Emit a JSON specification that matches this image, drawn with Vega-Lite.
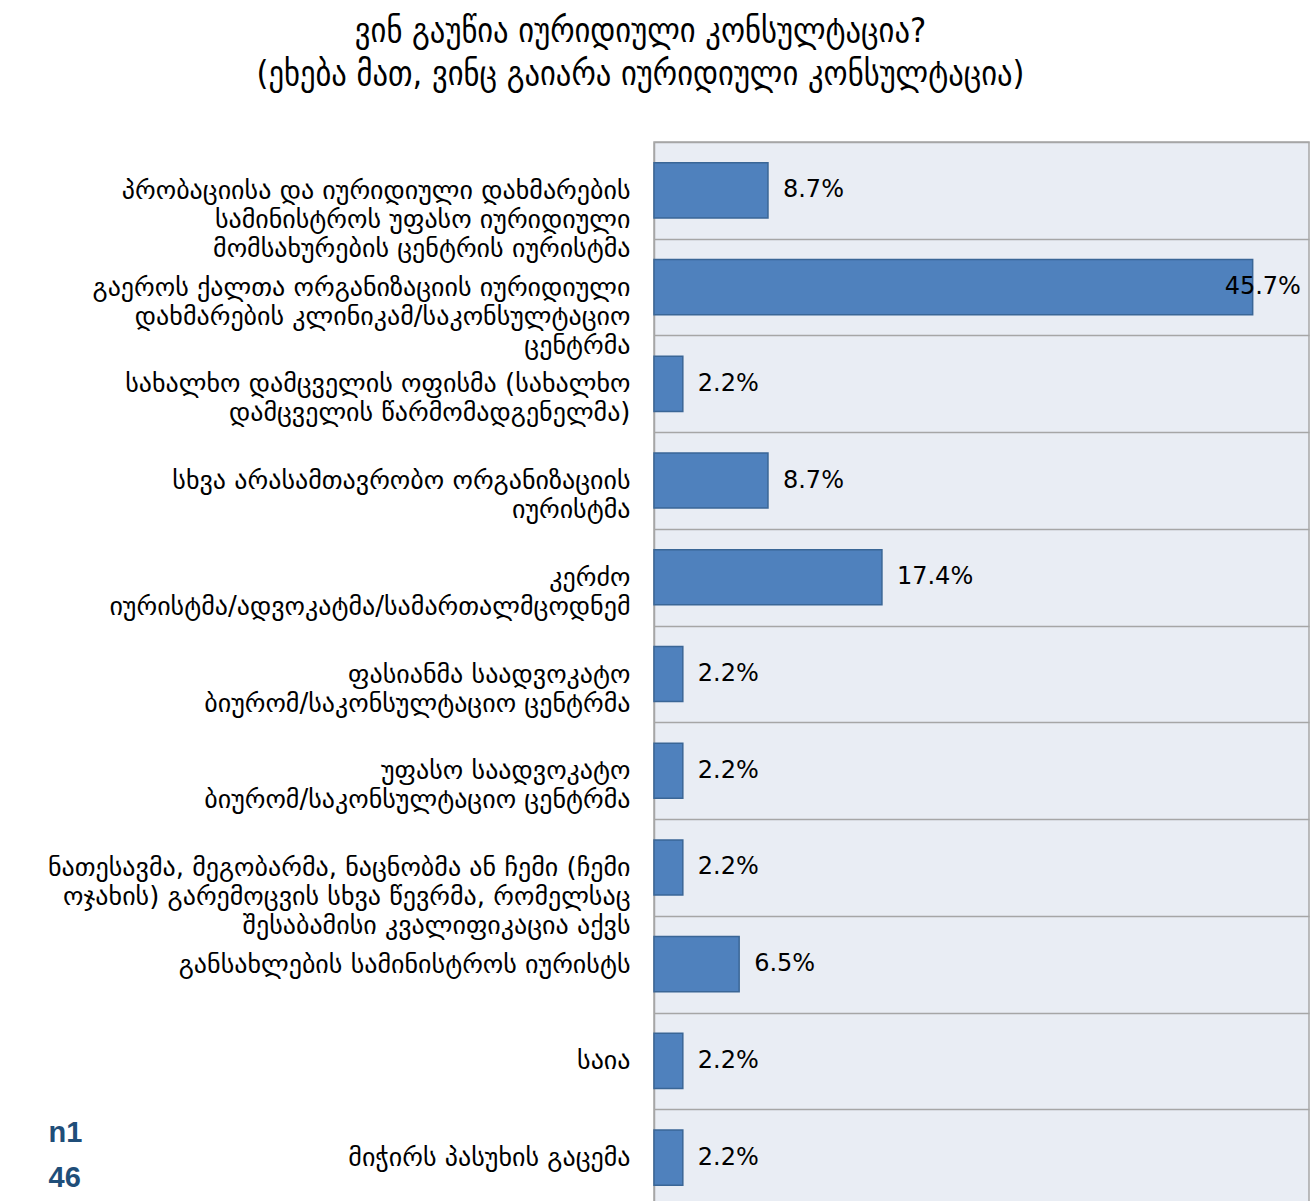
{
  "$schema": "https://vega.github.io/schema/vega-lite/v6.json",
  "autosize": {"type": "none"},
  "width": 655,
  "height": 1064,
  "padding": {"left": 654, "top": 142, "right": 3, "bottom": 0},
  "background": "#ffffff",
  "config": {"view": {"fill": "#E9EDF4", "stroke": "#A6A6A6", "strokeWidth": 1.5}},
  "title": {
    "text": ["ვინ გაუწია იურიდიული კონსულტაცია?", "(ეხება მათ, ვინც გაიარა იურიდიული კონსულტაცია)"],
    "anchor": "middle",
    "dx": -341,
    "offset": 37,
    "font": "DejaVu Sans Condensed",
    "fontSize": 34,
    "fontWeight": "normal",
    "lineHeight": 43,
    "color": "#000000"
  },
  "data": {
    "values": [
      {"label": "პრობაციისა და იურიდიული დახმარების|სამინისტროს უფასო იურიდიული|მომსახურების ცენტრის იურისტმა", "value": 0.087},
      {"label": "გაეროს ქალთა ორგანიზაციის იურიდიული|დახმარების კლინიკამ/საკონსულტაციო|ცენტრმა", "value": 0.457},
      {"label": "სახალხო დამცველის ოფისმა (სახალხო|დამცველის წარმომადგენელმა)", "value": 0.022},
      {"label": "სხვა არასამთავრობო ორგანიზაციის|იურისტმა", "value": 0.087},
      {"label": "კერძო|იურისტმა/ადვოკატმა/სამართალმცოდნემ", "value": 0.174},
      {"label": "ფასიანმა საადვოკატო|ბიურომ/საკონსულტაციო ცენტრმა", "value": 0.022},
      {"label": "უფასო საადვოკატო|ბიურომ/საკონსულტაციო ცენტრმა", "value": 0.022},
      {"label": "ნათესავმა, მეგობარმა, ნაცნობმა ან ჩემი (ჩემი|ოჯახის) გარემოცვის სხვა წევრმა, რომელსაც|შესაბამისი კვალიფიკაცია აქვს", "value": 0.022},
      {"label": "განსახლების სამინისტროს იურისტს", "value": 0.065},
      {"label": "საია", "value": 0.022},
      {"label": "მიჭირს პასუხის გაცემა", "value": 0.022}
    ]
  },
  "encoding": {
    "y": {
      "field": "label",
      "type": "nominal",
      "sort": null,
      "scale": {"paddingInner": 0, "paddingOuter": 0},
      "axis": {
        "title": ["n1", "46"],
        "titleAngle": 0,
        "titleX": -606,
        "titleY": 990,
        "titleAlign": "left",
        "titleBaseline": "middle",
        "titleFont": "Liberation Sans",
        "titleFontWeight": "bold",
        "titleFontSize": 29,
        "titleLineHeight": 45,
        "titleColor": "#1F4E79",
        "labelExpr": "datum.value ? split(datum.value, '|') : ''",
        "labelFont": "DejaVu Sans",
        "labelFontSize": 26,
        "labelLineHeight": 29,
        "labelColor": "#000000",
        "labelLimit": 0,
        "labelPadding": 24,
        "ticks": false,
        "domain": true,
        "domainColor": "#A6A6A6",
        "domainWidth": 1.5,
        "grid": true,
        "tickBand": "extent",
        "gridColor": "#A6A6A6",
        "gridWidth": 1.5
      }
    }
  },
  "layer": [
    {
      "mark": {"type": "bar", "color": "#4F81BD", "stroke": "#3A6696", "strokeWidth": 1.5, "height": {"band": 0.57}},
      "encoding": {
        "x": {
          "field": "value",
          "type": "quantitative",
          "scale": {"domain": [0, 0.5], "nice": false},
          "axis": null
        }
      }
    },
    {
      "transform": [{"filter": "datum.value < 0.4"}],
      "mark": {"type": "text", "align": "left", "baseline": "middle", "dx": 15, "font": "DejaVu Sans", "fontSize": 24, "color": "#000000"},
      "encoding": {
        "x": {"field": "value", "type": "quantitative"},
        "text": {"field": "value", "type": "quantitative", "format": ".1%"}
      }
    },
    {
      "transform": [{"filter": "datum.value >= 0.4"}],
      "mark": {"type": "text", "align": "left", "baseline": "middle", "dx": -28, "font": "DejaVu Sans", "fontSize": 24, "color": "#000000"},
      "encoding": {
        "x": {"field": "value", "type": "quantitative"},
        "text": {"field": "value", "type": "quantitative", "format": ".1%"}
      }
    }
  ]
}
